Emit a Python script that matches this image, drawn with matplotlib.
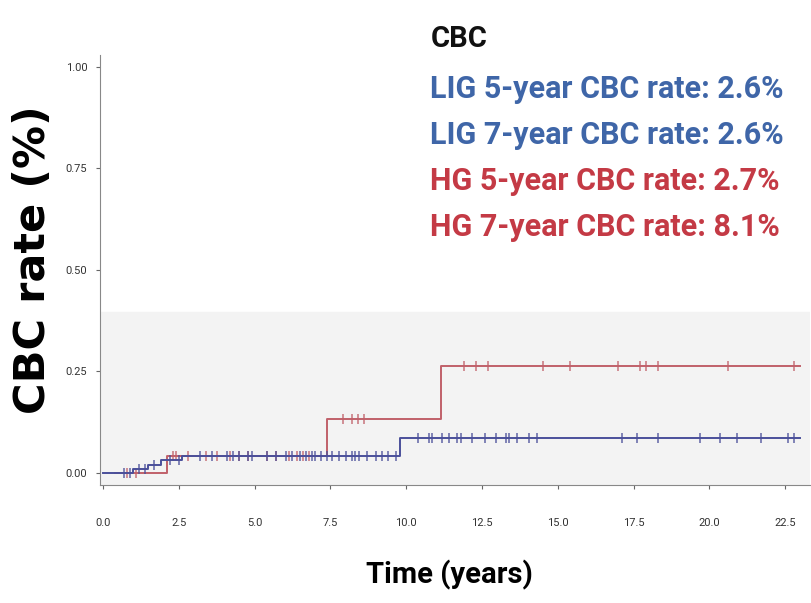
import numpy as np
import matplotlib
matplotlib.use("Agg")
import matplotlib.pyplot as plt
from matplotlib import font_manager

# step curves (time in years, cumulative rate)
lig_times = [0.0, 0.6, 1.0, 1.5, 1.9, 2.6, 9.8, 23.0]
lig_rates = [0.0, 0.0, 0.01, 0.02, 0.03, 0.04, 0.085, 0.085]
hg_times = [0.4, 2.1, 7.4, 11.15, 23.0]
hg_rates = [0.0, 0.04, 0.133, 0.262, 0.262]

# censoring marks
lig_censor = [0.7, 0.9, 1.2, 1.4, 1.7, 2.2, 2.5, 3.2, 3.6, 4.1, 4.3, 4.5, 4.8, 4.9, 5.4, 5.7,
              6.05, 6.25, 6.5, 6.7, 6.9, 7.0, 7.2, 7.4, 7.57, 7.8, 8.0, 8.2, 8.3, 8.45, 8.7,
              9.0, 9.2, 9.4, 9.67, 10.4, 10.76, 10.86, 11.18, 11.4, 11.68, 11.8, 12.17,
              12.6, 12.96, 13.3, 13.4, 13.65, 14.05, 14.3, 17.1, 17.6, 18.3, 19.7, 20.35,
              20.9, 21.7, 22.6, 22.8]
hg_censor = [0.8, 1.1, 2.3, 2.4, 2.8, 3.4, 3.75, 4.2, 4.5, 4.8, 5.4, 5.7, 6.15, 6.4, 6.6,
             6.8, 7.9, 8.2, 8.4, 8.6, 11.9, 12.3, 12.7, 14.5, 15.4, 17.0, 17.7, 17.9, 18.3,
             20.6, 22.8]

xticks = [0, 2.5, 5, 7.5, 10, 12.5, 15, 17.5, 20, 22.5]
xtick_labels = ["0.0", "2.5", "5.0", "7.5", "10.0", "12.5", "15.0", "17.5", "20.0", "22.5"]
yticks = [0, 0.25, 0.5, 0.75, 1.0]
ytick_labels = ["0.00", "0.25", "0.50", "0.75", "1.00"]

header = "CBC"
rate_lines = ["LIG 5-year CBC rate: 2.6%", "LIG 7-year CBC rate: 2.6%",
              "HG 5-year CBC rate: 2.7%", "HG 7-year CBC rate: 8.1%"]

blue = "#3f66a8"
red = "#c43a45"
line_blue = "#4a4f9a"
line_red = "#c0606a"

names = {f.name for f in font_manager.fontManager.ttflist}
narrow = "Liberation Sans Narrow" if "Liberation Sans Narrow" in names else "Roboto"

fig = plt.figure(figsize=(8.12, 6.03), dpi=100)
ax = fig.add_axes([0.123, 0.196, 0.874, 0.727])

def step_val(times, rates, t):
    idx = np.searchsorted(times, t, side="right") - 1
    return np.array(rates)[np.clip(idx, 0, len(rates) - 1)]

ax.axhspan(-0.05, 0.395, color="#f3f3f3", zorder=0)
ax.step(hg_times, hg_rates, where="post", color=line_red, lw=1.4, zorder=2)
ax.step(lig_times, lig_rates, where="post", color=line_blue, lw=1.4, zorder=3)
ax.plot(hg_censor, step_val(hg_times, hg_rates, hg_censor), ls="none", marker="|",
        ms=7, mew=1.2, color=line_red, alpha=0.8, zorder=2)
ax.plot(lig_censor, step_val(lig_times, lig_rates, lig_censor), ls="none", marker="|",
        ms=7, mew=1.2, color=line_blue, alpha=0.8, zorder=3)

ax.set_xlim(-0.1, 23.3)
ax.set_ylim(-0.03, 1.05)
ax.set_xticks(xticks)
ax.set_xticklabels(xtick_labels, family=narrow, fontsize=8, color="#333333")
ax.set_yticks(yticks)
ax.set_yticklabels(ytick_labels, family=narrow, fontsize=8, color="#333333")
ax.tick_params(length=3, color="#666666")
ax.tick_params(axis="x", pad=21)
ax.tick_params(axis="y", pad=6)
for s in ["top", "right"]:
    ax.spines[s].set_visible(False)
ax.spines["left"].set_color("#888888")
ax.spines["bottom"].set_color("#888888")
ax.spines["left"].set_bounds(-0.03, 1.03)

fig.text(0.041, 0.569, "CBC rate (%)", fontsize=31, fontweight="bold", family="DejaVu Sans",
         rotation=90, ha="center", va="center")
fig.text(0.554, 1 - 575 / 603, "Time (years)", fontsize=21, fontweight="bold", family=narrow,
         ha="center", va="center")

fig.text(0.53, 0.935, header, fontsize=21, fontweight="bold", family=narrow, color="#111111",
         va="center")
colors = [blue, blue, red, red]
for i, (txt, c) in enumerate(zip(rate_lines, colors)):
    fig.text(0.53, 0.853 - i * 0.0763, txt, fontsize=22, fontweight="bold", family=narrow,
             color=c, va="center")

fig.savefig("out.png", dpi=100)
